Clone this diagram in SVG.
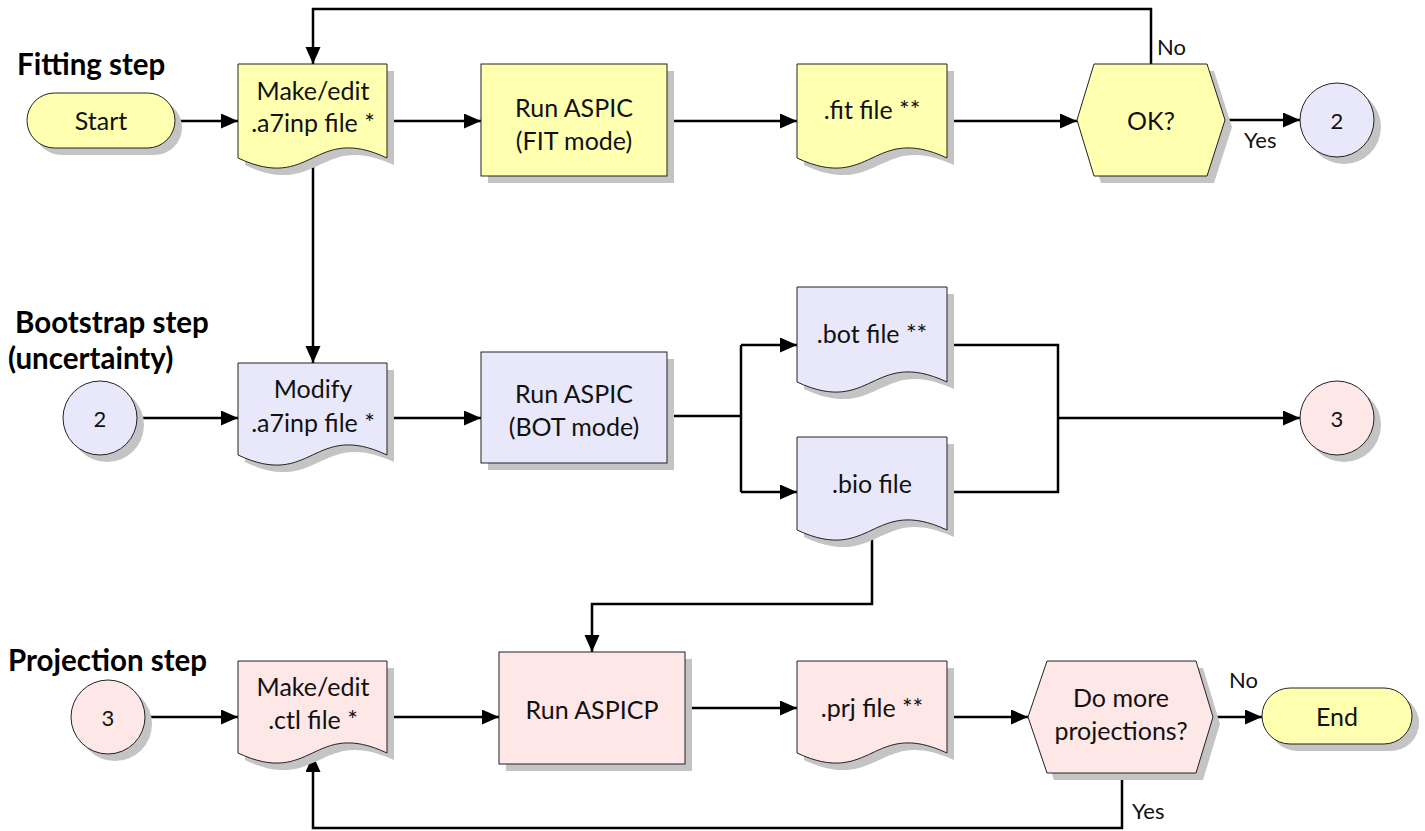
<svg xmlns="http://www.w3.org/2000/svg" width="1425" height="831" viewBox="0 0 1425 831">
<defs>
<marker id="arr" markerUnits="userSpaceOnUse" markerWidth="18" markerHeight="16" refX="17" refY="7.5" orient="auto">
<path d="M0,0 L17,7.5 L0,15 z" fill="#000"/>
</marker>
</defs>
<style>
.y{fill:#FFFFB0;stroke:#222;stroke-width:1}
.b{fill:#E8E8FA;stroke:#222;stroke-width:1}
.p{fill:#FDE7E7;stroke:#222;stroke-width:1}
.sh{fill:#C4C4C4;stroke:none}
.t{font-family:Lato,"Open Sans",sans-serif;font-size:25px;fill:#111;text-anchor:middle}
.h{font-family:Lato,"Open Sans",sans-serif;font-size:29.5px;font-weight:bold;fill:#000}
.lb{font-family:Lato,"Open Sans",sans-serif;font-size:22px;fill:#111}
.c{fill:none;stroke:#000;stroke-width:2.5}
</style>
<rect width="1425" height="831" fill="#fff"/>

<text class="h" x="17" y="75">Fitting step</text>
<text class="h" x="15" y="333">Bootstrap step</text>
<text class="h" x="8" y="369">(uncertainty)</text>
<text class="h" x="8" y="671">Projection step</text>

<g id="connectors">
<path class="c" d="M175,121 H238" marker-end="url(#arr)"/>
<path class="c" d="M387,121 H481" marker-end="url(#arr)"/>
<path class="c" d="M667,121 H797" marker-end="url(#arr)"/>
<path class="c" d="M947,121 H1077" marker-end="url(#arr)"/>
<path class="c" d="M1151,64 V9 H313 V64" marker-end="url(#arr)"/>
<path class="c" d="M1225,120 H1300" marker-end="url(#arr)"/>
<path class="c" d="M313,157 V363" marker-end="url(#arr)"/>
<path class="c" d="M137,418 H238" marker-end="url(#arr)"/>
<path class="c" d="M387,418 H481" marker-end="url(#arr)"/>
<path class="c" d="M667,416 H741"/>
<path class="c" d="M741,345 V492"/>
<path class="c" d="M741,345 H797" marker-end="url(#arr)"/>
<path class="c" d="M741,492 H797" marker-end="url(#arr)"/>
<path class="c" d="M947,345 H1058 V492 H947"/>
<path class="c" d="M1058,418 H1300" marker-end="url(#arr)"/>
<path class="c" d="M872,531 V604 H592 V652" marker-end="url(#arr)"/>
<path class="c" d="M145,717 H238" marker-end="url(#arr)"/>
<path class="c" d="M387,717 H499" marker-end="url(#arr)"/>
<path class="c" d="M685,708 H797" marker-end="url(#arr)"/>
<path class="c" d="M947,717 H1028" marker-end="url(#arr)"/>
<path class="c" d="M1213,717 H1262" marker-end="url(#arr)"/>
<path class="c" d="M1122,773 V828 H313 V755" marker-end="url(#arr)"/>
</g>

<g id="labels">
<text class="lb" x="1157" y="55">No</text>
<text class="lb" x="1244" y="148">Yes</text>
<text class="lb" x="1229" y="688">No</text>
<text class="lb" x="1132" y="819">Yes</text>
</g>

<g id="start">
<rect class="sh" x="34" y="100" width="148" height="55" rx="27.5"/>
<rect class="y" x="27" y="93" width="148" height="55" rx="27.5"/>
<text class="t" x="101" y="130">Start</text>
</g>

<g id="makeedit-a7inp">
<path class="sh" d="M245,71 H394 V165 C319,130 319,200 245,165 Z"/>
<path class="y" d="M238,64 H387 V158 C312.5,123 312.5,193 238,158 Z"/>
<text class="t" x="313" y="100">Make/edit</text>
<text class="t" x="313" y="132">.a7inp file *</text>
</g>

<g id="run-aspic-fit">
<rect class="sh" x="488" y="71" width="186" height="112"/>
<rect class="y" x="481" y="64" width="186" height="112"/>
<text class="t" x="574" y="117">Run ASPIC</text>
<text class="t" x="574" y="150">(FIT mode)</text>
</g>

<g id="fit-file">
<path class="sh" d="M804,71 H954 V165 C879,130 879,200 804,165 Z"/>
<path class="y" d="M797,64 H947 V158 C872,123 872,193 797,158 Z"/>
<text class="t" x="872" y="119">.fit file **</text>
</g>

<g id="ok">
<path class="sh" d="M1084,127 L1101,71 H1214 L1232,127 L1214,183 H1101 Z"/>
<path class="y" d="M1077,120 L1094,64 H1207 L1225,120 L1207,176 H1094 Z"/>
<text class="t" x="1151" y="130">OK?</text>
</g>

<g id="conn-2-out">
<circle class="sh" cx="1344" cy="127" r="37"/>
<circle class="b" cx="1337" cy="120" r="37"/>
<text class="t" x="1337" y="129" style="font-size:22px">2</text>
</g>

<g id="conn-2-in">
<circle class="sh" cx="107" cy="425" r="37"/>
<circle class="b" cx="100" cy="418" r="37"/>
<text class="t" x="100" y="427" style="font-size:22px">2</text>
</g>

<g id="modify-a7inp">
<path class="sh" d="M245,370 H394 V462 C319,427 319,497 245,462 Z"/>
<path class="b" d="M238,363 H387 V455 C312.5,420 312.5,490 238,455 Z"/>
<text class="t" x="313" y="398">Modify</text>
<text class="t" x="313" y="432">.a7inp file *</text>
</g>

<g id="run-aspic-bot">
<rect class="sh" x="488" y="359" width="186" height="111"/>
<rect class="b" x="481" y="352" width="186" height="111"/>
<text class="t" x="574" y="403">Run ASPIC</text>
<text class="t" x="574" y="436">(BOT mode)</text>
</g>

<g id="bot-file">
<path class="sh" d="M804,294 H954 V389 C879,354 879,424 804,389 Z"/>
<path class="b" d="M797,287 H947 V382 C872,347 872,417 797,382 Z"/>
<text class="t" x="872" y="343">.bot file **</text>
</g>

<g id="bio-file">
<path class="sh" d="M804,444 H954 V537 C879,502 879,572 804,537 Z"/>
<path class="b" d="M797,437 H947 V530 C872,495 872,565 797,530 Z"/>
<text class="t" x="872" y="493">.bio file</text>
</g>

<g id="conn-3-out">
<circle class="sh" cx="1344" cy="425" r="37"/>
<circle class="p" cx="1337" cy="418" r="37"/>
<text class="t" x="1337" y="427" style="font-size:22px">3</text>
</g>

<g id="conn-3-in">
<circle class="sh" cx="115" cy="724" r="37"/>
<circle class="p" cx="108" cy="717" r="37"/>
<text class="t" x="108" y="726" style="font-size:22px">3</text>
</g>

<g id="makeedit-ctl">
<path class="sh" d="M245,668 H394 V760 C319,725 319,795 245,760 Z"/>
<path class="p" d="M238,661 H387 V753 C312.5,718 312.5,788 238,753 Z"/>
<text class="t" x="313" y="696">Make/edit</text>
<text class="t" x="313" y="729">.ctl file *</text>
</g>

<g id="run-aspicp">
<rect class="sh" x="506" y="659" width="186" height="112"/>
<rect class="p" x="499" y="652" width="186" height="112"/>
<text class="t" x="592" y="719">Run ASPICP</text>
</g>

<g id="prj-file">
<path class="sh" d="M804,668 H954 V760 C879,725 879,795 804,760 Z"/>
<path class="p" d="M797,661 H947 V753 C872,718 872,788 797,753 Z"/>
<text class="t" x="872" y="717">.prj file **</text>
</g>

<g id="more-projections">
<path class="sh" d="M1035,724 L1054,668 H1203 L1220,724 L1203,780 H1054 Z"/>
<path class="p" d="M1028,717 L1047,661 H1196 L1213,717 L1196,773 H1047 Z"/>
<text class="t" x="1121" y="707">Do more</text>
<text class="t" x="1121" y="740">projections?</text>
</g>

<g id="end">
<rect class="sh" x="1269" y="695" width="150" height="56" rx="28"/>
<rect class="y" x="1262" y="688" width="150" height="56" rx="28"/>
<text class="t" x="1337" y="726">End</text>
</g>
</svg>
